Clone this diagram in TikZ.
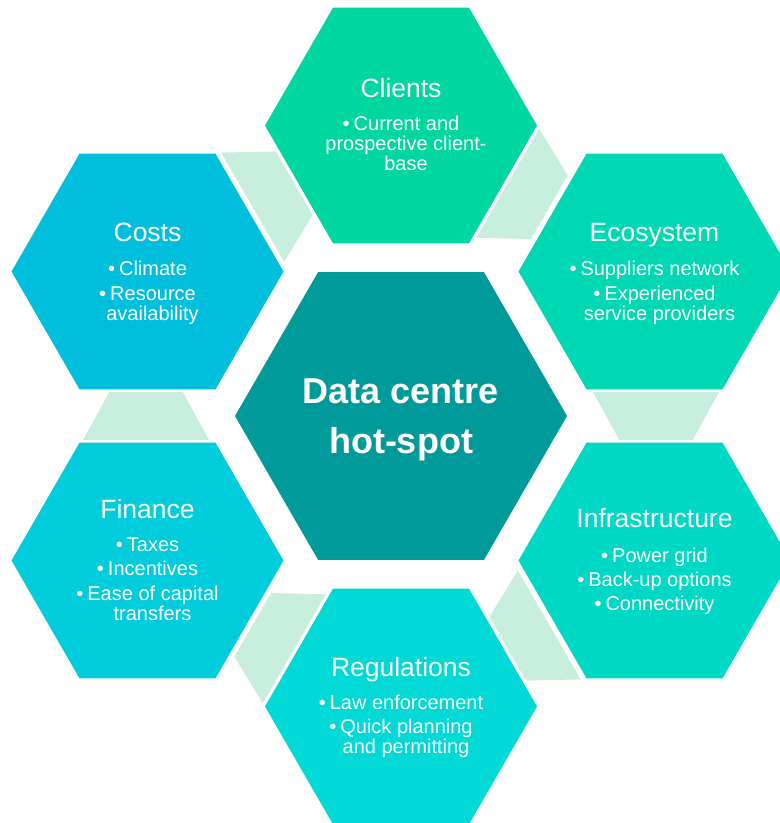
\documentclass[tikz,border=0pt]{standalone}
\usepackage{fontspec}
\setmainfont{Liberation Sans}
\definecolor{cClients}{HTML}{00D69F}
\definecolor{cEco}{HTML}{00D7B3}
\definecolor{cInfra}{HTML}{00D8C6}
\definecolor{cReg}{HTML}{00D9D6}
\definecolor{cFin}{HTML}{00CCDC}
\definecolor{cCosts}{HTML}{00BFDD}
\definecolor{cCenter}{HTML}{009A9A}
\definecolor{cLink}{HTML}{C8EEDD}
\tikzset{
  pics/hexa/.style args={#1/#2}{code={\fill[#2] (0:#1) -- (60:#1) -- (120:#1) -- (180:#1) -- (240:#1) -- (300:#1) -- cycle;}},
  pics/linkshape/.style={code={\fill[cLink] (-318,24) -- (-192,24) -- (-218.3,-24) -- (-291.7,-24) -- cycle;}},
  ttl/.style={text=white, font=\fontsize{26.5}{30}\selectfont, anchor=base, inner sep=0pt},
  itm/.style={text=white, font=\fontsize{20}{24}\selectfont, anchor=base, inner sep=0pt},
  ctr/.style={text=white, font=\bfseries\fontsize{36}{40}\selectfont, anchor=base, inner sep=0pt},
}
\newcommand{\bul}{\textbullet\hspace{4pt}}
\begin{document}
\begin{tikzpicture}[x=1pt,y=-1pt]
\useasboundingbox (0,0) rectangle (780,823);
\clip (0,0) rectangle (780,823);
% centres
\coordinate (hub) at (401,416);
\coordinate (clients) at (401,125.5);
\coordinate (eco) at (654.5,271.5);
\coordinate (infra) at (654.5,560.5);
\coordinate (reg) at (401,706.5);
\coordinate (fin) at (147.5,560.5);
\coordinate (costs) at (147.5,271.5);
% connectors
\pic at (hub) {linkshape};
\pic[rotate=-60] at (hub) {linkshape};
\pic[rotate=-120] at (hub) {linkshape};
\pic[rotate=-180] at (hub) {linkshape};
\pic[rotate=-240] at (hub) {linkshape};
\pic[rotate=-300] at (hub) {linkshape};
% hexagons
\pic at (hub) {hexa=166/cCenter};
\pic at (clients) {hexa=136/cClients};
\pic at (eco) {hexa=136/cEco};
\pic at (infra) {hexa=136/cInfra};
\pic at (reg) {hexa=136/cReg};
\pic at (fin) {hexa=136/cFin};
\pic at (costs) {hexa=136/cCosts};
% centre text
\node[ctr] (hub-1) at (401,403) {Data centre};
\node[ctr] (hub-2) at (401,453) {hot-spot};
% Clients
\node[ttl] (cl-t) at (401,97) {Clients};
\node[itm] (cl-1) at (401,130) {\bul Current and};
\node[itm] (cl-2) at (406,150) {prospective client-};
\node[itm] (cl-3) at (406,170) {base};
% Costs
\node[ttl] (co-t) at (147.5,241) {Costs};
\node[itm] (co-1) at (147.5,275) {\bul Climate};
\node[itm] (co-2) at (147.5,300) {\bul Resource};
\node[itm] (co-3) at (152.5,320) {availability};
% Ecosystem
\node[ttl] (ec-t) at (654.5,241) {Ecosystem};
\node[itm] (ec-1) at (654.5,275) {\bul Suppliers network};
\node[itm] (ec-2) at (654.5,300) {\bul Experienced};
\node[itm] (ec-3) at (659.5,320) {service providers};
% Infrastructure
\node[ttl] (in-t) at (654.5,527) {Infrastructure};
\node[itm] (in-1) at (654.5,562) {\bul Power grid};
\node[itm] (in-2) at (654.5,586) {\bul Back-up options};
\node[itm] (in-3) at (654.5,610) {\bul Connectivity};
% Finance
\node[ttl] (fi-t) at (147.5,518) {Finance};
\node[itm] (fi-1) at (147.5,551) {\bul Taxes};
\node[itm] (fi-2) at (147.5,575) {\bul Incentives};
\node[itm] (fi-3) at (147.5,600) {\bul Ease of capital};
\node[itm] (fi-4) at (152.5,620) {transfers};
% Regulations
\node[ttl] (re-t) at (401,676) {Regulations};
\node[itm] (re-1) at (401,709) {\bul Law enforcement};
\node[itm] (re-2) at (401,733) {\bul Quick planning};
\node[itm] (re-3) at (406,753) {and permitting};
\end{tikzpicture}
\end{document}
